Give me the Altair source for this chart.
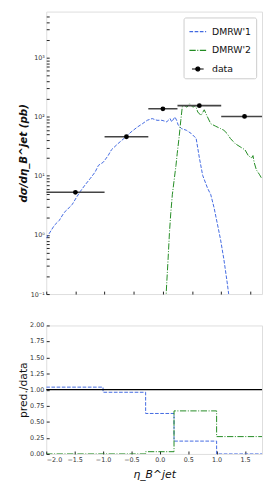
import altair as alt
import pandas as pd

# ---- top panel: predictions (differential cross section, pb) ----
blue_x = [-2.000, -1.860, -1.777, -1.693, -1.637, -1.553, -1.486, -1.413, -1.330, -1.246,
          -1.162, -1.106, -1.022, -0.939, -0.883, -0.771, -0.631, -0.547, -0.436, -0.352,
          -0.268, -0.184, -0.101, -0.017, 0.067, 0.123, 0.151, 0.207, 0.235, 0.263,
          0.318, 0.402, 0.486, 0.570, 0.626, 0.682, 0.765, 0.821, 0.877, 0.950,
          0.989, 1.045, 1.101, 1.128, 1.160]
blue_y = [0.88, 1.46, 1.76, 2.4, 2.7, 3.3, 4.25, 5.5, 7.1, 9.0,
          11.6, 15.0, 17.0, 22.0, 27.5, 35.0, 46.0, 55.0, 67.0, 76.0,
          87.0, 93.0, 87.0, 87.0, 82.0, 93.0, 82.0, 99.0, 87.0, 72.0,
          63.0, 59.0, 52.0, 43.0, 20.0, 10.2, 6.2, 4.8, 2.9, 1.29,
          0.83, 0.39, 0.16, 0.10, 0.05]

green_x = [0.040, 0.056, 0.067, 0.089, 0.112, 0.134, 0.162, 0.196, 0.224, 0.246,
           0.279, 0.307, 0.335, 0.374, 0.413, 0.458, 0.514, 0.559, 0.598, 0.654,
           0.709, 0.765, 0.821, 0.905, 0.989, 1.045, 1.101, 1.156, 1.240, 1.324,
           1.408, 1.464, 1.520, 1.545, 1.564, 1.603, 1.659, 1.687]
green_y = [0.05, 0.10, 0.16, 0.39, 1.07, 2.27, 4.8, 9.0, 14.9, 24.0,
           46.0, 87.0, 154.0, 154.0, 145.0, 165.0, 145.0, 154.0, 120.0, 105.0,
           131.0, 99.0, 76.0, 69.0, 63.0, 59.0, 52.0, 43.0, 35.0, 31.0,
           27.5, 22.0, 20.0, 22.0, 17.0, 12.6, 10.4, 9.3]

# ---- data points with bin widths ----
data_x = [-1.5, -0.625, 0.0, 0.625, 1.4]
data_lo = [-2.0, -1.0, -0.25, 0.25, 1.0]
data_hi = [-1.0, -0.25, 0.25, 1.0, 1.8]
data_y = [5.26, 45.8, 136.0, 154.0, 101.0]

# ---- bottom panel: ratios pred./data per bin ----
bin_edges = [-2.0, -1.0, -0.25, 0.25, 1.0, 1.8]
ratio_blue = [1.04, 0.96, 0.63, 0.20, 0.0]
ratio_green = [0.0, 0.0, 0.035, 0.67, 0.27]
ratio_ticks = [0.0, 0.25, 0.5, 0.75, 1.0, 1.25, 1.5, 1.75, 2.0]
eta_ticks = [-2.0, -1.5, -1.0, -0.5, 0.0, 0.5, 1.0, 1.5]

series = ["DMRW'1", "DMRW'2", "data"]
colors = ["#4169e1", "#228b22", "#000000"]
dashes = [[3.7, 1.6], [6.4, 1.6, 1.0, 1.6], [1, 0]]
data_shape = "M-0.7,0H0.7M0.24,0A0.24,0.24 0 1,1 -0.24,0A0.24,0.24 0 1,1 0.24,0Z"
shapes = ["stroke", "stroke", data_shape]

curves = pd.concat([
    pd.DataFrame({"x": blue_x, "y": blue_y, "series": series[0]}),
    pd.DataFrame({"x": green_x, "y": green_y, "series": series[1]}),
])
points = pd.DataFrame({"x": data_x, "lo": data_lo, "hi": data_hi, "y": data_y, "series": "data"})

steps = []
for name, vals in ((series[0], ratio_blue), (series[1], ratio_green)):
    for e, v in zip(bin_edges[:-1], vals):
        steps.append({"x": e, "r": v, "series": name})
    steps.append({"x": bin_edges[-1], "r": vals[-1], "series": name})
steps = pd.DataFrame(steps)

FONT = "DejaVu Sans"
TICK = "#222222"
W = 220

legend = alt.Legend(title=None, orient="top-right", offset=6, fillColor="white",
                    strokeColor="#cccccc", cornerRadius=2, padding=5,
                    labelFontSize=9.5, labelFont=FONT, labelColor="#111",
                    symbolSize=289, symbolStrokeWidth=1.2, rowPadding=5,
                    labelOffset=5, symbolOpacity=1)
color_scale = alt.Scale(domain=series, range=colors)
dash_scale = alt.Scale(domain=series, range=dashes)
shape_scale = alt.Scale(domain=series, range=shapes)

x_top_scale = alt.Scale(domain=[-2.0, 1.7], nice=False, zero=False)
x_top_axis = alt.Axis(values=eta_ticks, labels=False, title=None, tickSize=3,
                      offset=-3, domain=False, grid=False, tickColor=TICK)

major = [0.1, 1, 10, 100, 1000]
yvals = []
for d in major:
    for k in range(1, 10):
        v = round(k * d, 6)
        if v <= 5000:
            yvals.append(v)

label_expr = ("datum.value == 0.1 ? '10⁻¹' : datum.value == 1 ? '10⁰' : "
              "datum.value == 10 ? '10¹' : datum.value == 100 ? '10²' : "
              "datum.value == 1000 ? '10³' : ''")

y_top_scale = alt.Scale(type="log", domain=[0.1, 6000], nice=False)
y_top_axis = alt.Axis(values=yvals, labelExpr=label_expr, tickSize=3, offset=-3,
                      domain=False, grid=False, tickColor=TICK, labelFontSize=6.5,
                      labelFont=FONT, labelColor="#333", labelPadding=2,
                      labelOverlap=False,
                      title="dσ/dη_B^jet (pb)", titleFontSize=10.5, titleFont=FONT,
                      titleFontStyle="italic", titleFontWeight="bold", titleX=-21,
                      titleColor="#111")


def xt(field):
    return alt.X(field, scale=x_top_scale, axis=x_top_axis)


def yt(field):
    return alt.Y(field, scale=y_top_scale, axis=y_top_axis)


lines = alt.Chart(curves).mark_line(strokeWidth=1, clip=True).encode(
    x=xt("x:Q"),
    y=yt("y:Q"),
    color=alt.Color("series:N", scale=color_scale, legend=legend),
    strokeDash=alt.StrokeDash("series:N", scale=dash_scale, legend=legend),
    detail="series:N",
)

bars = alt.Chart(points).mark_rule(color="#444444", strokeWidth=1.6, clip=True).encode(
    x=xt("lo:Q"), x2="hi:Q", y=yt("y:Q")
)

dots = alt.Chart(points).mark_point(filled=True, size=24, opacity=1, shape="circle").encode(
    x=xt("x:Q"), y=yt("y:Q"),
    color=alt.Color("series:N", scale=color_scale, legend=legend),
)

# invisible carrier of the legend symbol for "data" (circle with bar)
legend_carrier = alt.Chart(points).mark_point(filled=True, opacity=0).encode(
    x=xt("x:Q"), y=yt("y:Q"),
    color=alt.Color("series:N", scale=color_scale, legend=legend),
    shape=alt.Shape("series:N", scale=shape_scale, legend=legend),
)

top = alt.layer(lines, bars, dots, legend_carrier).properties(width=W, height=288)

x_bot_scale = alt.Scale(domain=[-2.0, 1.8], nice=False, zero=False)
x_bot_axis = alt.Axis(values=eta_ticks, format=".1f", tickSize=3, offset=-3, domain=False,
                      grid=False, tickColor=TICK, labelFontSize=6.5, labelFont=FONT,
                      labelColor="#333", labelPadding=3, labelOverlap=False,
                      title="η_B^jet", titleFontSize=11, titleFont=FONT,
                      titleFontStyle="italic", titleFontWeight="normal",
                      titlePadding=6, titleColor="#111")
y_bot_axis = alt.Axis(values=ratio_ticks, labels=False, tickSize=3, offset=-3,
                      domain=False, grid=False, tickColor=TICK,
                      title="pred./data", titleFontSize=11, titleFont=FONT,
                      titleFontWeight="normal", titleX=-21, titleColor="#111")
y_bot_scale = alt.Scale(domain=[0, 2], nice=False, zero=True)

ratio_lines = alt.Chart(steps).mark_line(strokeWidth=1, interpolate="step-after", clip=True).encode(
    x=alt.X("x:Q", scale=x_bot_scale, axis=x_bot_axis),
    y=alt.Y("r:Q", scale=y_bot_scale, axis=y_bot_axis),
    color=alt.Color("series:N", scale=color_scale, legend=None),
    strokeDash=alt.StrokeDash("series:N", scale=dash_scale, legend=None),
    detail="series:N",
)

one_line = alt.Chart(pd.DataFrame({"r": [1.0]})).mark_rule(color="black", strokeWidth=1.2).encode(
    y=alt.Y("r:Q", scale=y_bot_scale, axis=y_bot_axis)
)

# tick labels of the ratio axis, placed through the y scale
ratio_labels = alt.Chart(pd.DataFrame({"r": ratio_ticks})).transform_calculate(
    lab="format(datum.r, '.2f')"
).mark_text(align="right", baseline="middle", fontSize=6.5, font=FONT,
            color="#333333").encode(
    y=alt.Y("r:Q", scale=y_bot_scale, axis=y_bot_axis),
    x=alt.value(-2),
    text="lab:N",
)

bottom = alt.layer(ratio_lines, one_line, ratio_labels).properties(width=W, height=131)

chart = alt.vconcat(top, bottom, spacing=24).properties(
    padding={"left": 9, "top": -2, "right": 0, "bottom": 0}
).configure_view(stroke="#222222", strokeWidth=1).configure(font=FONT, background="white")

chart.save("out.html", embed_options={"renderer": "svg", "actions": False})
